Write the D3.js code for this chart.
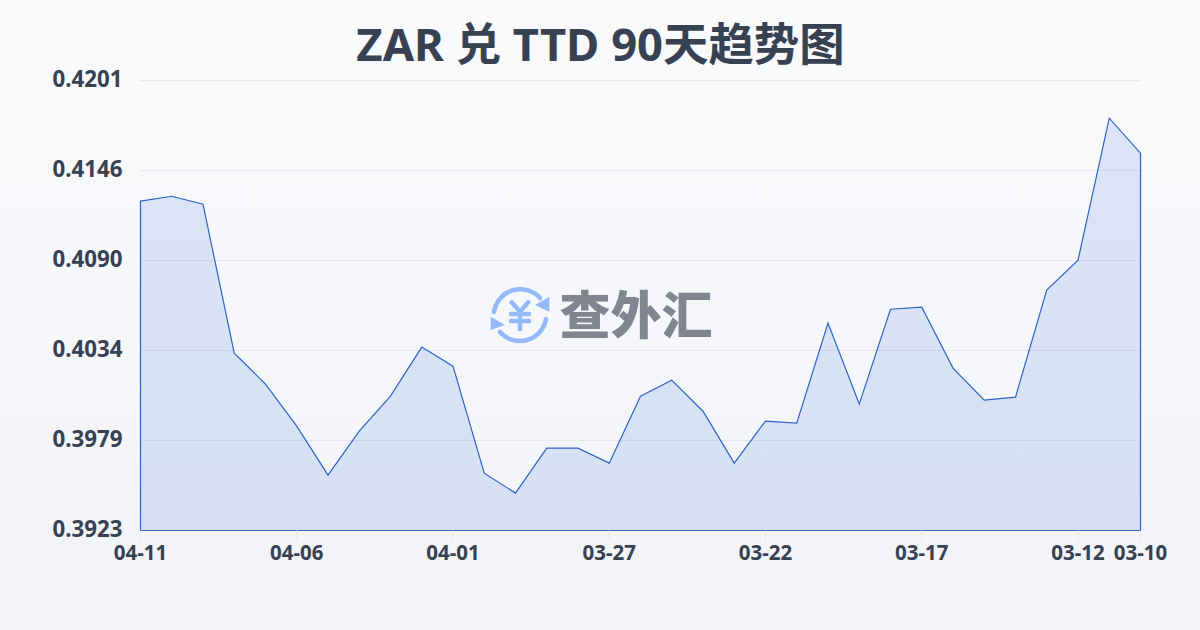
<!DOCTYPE html>
<html>
<head>
<meta charset="utf-8">
<script src="https://cdn.jsdelivr.net/npm/d3@7"></script>
<style>
  html, body { margin: 0; padding: 0; }
  svg { display: block; }
  text { font-family: "Noto Sans", "Noto Sans CJK SC", sans-serif; }
</style>
</head>
<body>
<div id="chart"></div>
<script>
'use strict'

const width = 1200;
const height = 630;
const margin = { top: 80.5, right: 59.5, bottom: 99.5, left: 140.5 };

const titleText = 'ZAR 兑 TTD 90天趋势图';
const watermarkText = '查外汇';

const dates = ['04-11','04-10','04-09','04-08','04-07','04-06','04-05','04-04','04-03','04-02','04-01',
               '03-31','03-30','03-29','03-28','03-27','03-26','03-25','03-24','03-23','03-22',
               '03-21','03-20','03-19','03-18','03-17','03-16','03-15','03-14','03-13','03-12','03-11','03-10'];
const rates = [0.41267,0.41297,0.41248,0.40328,0.40136,0.39877,0.39574,0.39846,0.40062,0.40365,0.40247,
               0.39586,0.39463,0.39741,0.39741,0.39648,0.40062,0.40161,0.39969,0.39648,0.39908,
               0.39895,0.40513,0.40013,0.40599,0.40612,0.40235,0.40037,0.40056,0.40717,0.40902,0.41779,0.41563];
const xLabels = ['04-11','04-06','04-01','03-27','03-22','03-17','03-12','03-10'];
const yTicks = [0.39232,0.39788,0.40344,0.40900,0.41456,0.42012];

const svg = d3.select('#chart')
              .append('svg')
              .attr('width', width)
              .attr('height', height);

/* background */
const defs = svg.append('defs');
const bg = defs.append('linearGradient')
               .attr('id', 'bg')
               .attr('x1', 0).attr('y1', 0).attr('x2', 0).attr('y2', 1);
bg.append('stop').attr('offset', '0%').attr('stop-color', '#f8fafc');
bg.append('stop').attr('offset', '100%').attr('stop-color', '#f1f3f6');

svg.append('rect')
   .attr('width', width)
   .attr('height', height)
   .attr('fill', 'url(#bg)');

/* SCALES */
const xScale = d3.scalePoint()
                 .domain(dates)
                 .range([margin.left, width - margin.right]);
const yScale = d3.scaleLinear()
                 .domain([d3.min(yTicks), d3.max(yTicks)])
                 .range([height - margin.bottom, margin.top]);

/* GRID + Y AXIS */
const yAxis = d3.axisLeft(yScale)
                .offset(0)
                .tickValues(yTicks)
                .tickFormat(d3.format('.4f'))
                .tickSize(-(width - margin.left - margin.right))
                .tickPadding(18);

const yG = svg.append('g')
              .attr('id', 'y-axis')
              .attr('transform', 'translate(' + margin.left + ',0)')
              .call(yAxis);
yG.select('.domain').remove();
yG.selectAll('line').attr('stroke', '#e5e7eb').attr('stroke-width', 1);
yG.selectAll('text')
  .attr('dy', '0.27em')
  .attr('fill', '#374151')
  .style('font-size', '22.3px')
  .style('font-weight', 700);

/* AREA */
const area = d3.area()
               .x((d, i) => xScale(dates[i]))
               .y0(yScale.range()[0])
               .y1(d => yScale(d));

svg.append('path')
   .datum(rates)
   .attr('d', d => area(d) + 'Z')
   .attr('fill', '#3f6fe0')
   .attr('fill-opacity', 0.15)
   .attr('stroke', '#2f62c8')
   .attr('stroke-width', 1.2);

/* X AXIS */
const xAxis = d3.axisBottom(xScale)
                .offset(0)
                .tickValues(xLabels)
                .tickSize(10)
                .tickPadding(5);

const xG = svg.append('g')
              .attr('id', 'x-axis')
              .attr('transform', 'translate(0,' + (height - margin.bottom) + ')')
              .call(xAxis);
xG.select('.domain').remove();
xG.selectAll('line').attr('stroke', '#e5e7eb');
xG.selectAll('text')
  .attr('fill', '#374151')
  .style('font-size', '20.5px')
  .style('font-weight', 700);

/* TITLE */
svg.append('text')
   .attr('x', 600.5)
   .attr('y', 61)
   .attr('text-anchor', 'middle')
   .attr('fill', '#374151')
   .style('font-size', '45.4px')
   .style('font-weight', 700)
   .text(titleText);

/* WATERMARK */
const logo = svg.append('g')
                .attr('transform', 'translate(520,315)')
                .attr('fill', 'none')
                .attr('stroke', '#93b9f8')
                .attr('stroke-width', 4.5)
                .attr('stroke-linecap', 'round');
logo.append('path').attr('d', 'M-26,-3A26.5,26.5 0 0 1 20,-17');
logo.append('path').attr('d', 'M26,4A26.5,26.5 0 0 1 -20,17');
logo.append('path').attr('d', 'M29.3,-18.3L29.3,-3.3L15,-10Z').attr('fill', '#93b9f8').attr('stroke', 'none');
logo.append('path').attr('d', 'M-29.3,1.7L-29.3,15L-15,10Z').attr('fill', '#93b9f8').attr('stroke', 'none');
logo.append('path').attr('d', 'M-8.3,-12.7L0,-3.3L8.3,-12.7M-9,-1H9M-9,6H9M0,-3.3V14.3');

svg.append('text')
   .attr('x', 636)
   .attr('y', 334)
   .attr('text-anchor', 'middle')
   .attr('fill', '#80858f')
   .style('font-family', '"Noto Sans CJK SC"')
   .style('font-size', '51px')
   .style('font-weight', 900)
   .text(watermarkText);
</script>
</body>
</html>
